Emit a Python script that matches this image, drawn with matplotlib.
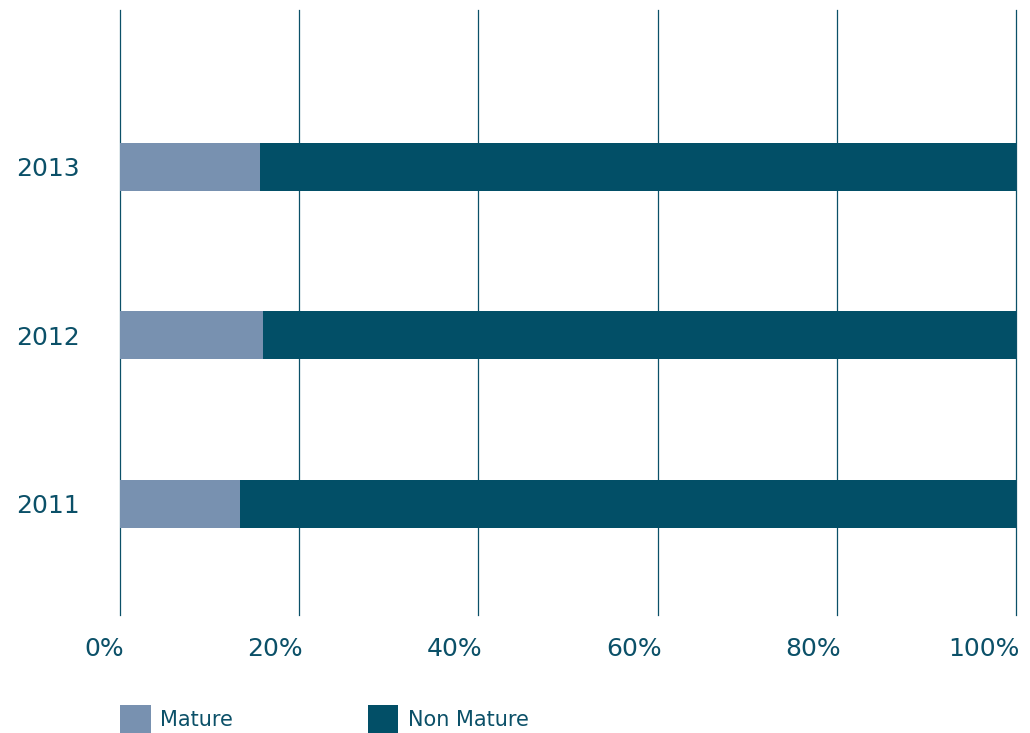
import matplotlib.pyplot as plt
import matplotlib.transforms as mtrans
from matplotlib.ticker import PercentFormatter

# data
years = ['2011', '2012', '2013']
mature = [13.4, 16.0, 15.6]
non_mature = [100 - m for m in mature]

col_mature = '#7891b0'
col_non = '#024f67'
txt_col = '#0b5068'

fig = plt.figure(figsize=(10.30, 7.33), dpi=100)
ax = fig.add_axes([120/1030, 1 - 615/733, 896/1030, 605/733])

ypos = range(len(years))
ax.barh(ypos, mature, height=0.285, color=col_mature, label='Mature', zorder=2)
ax.barh(ypos, non_mature, left=mature, height=0.285, color=col_non,
        label='Non Mature', zorder=2)

ax.set_xlim(0, 100)
ax.set_ylim(-0.66, 2.93)
ax.set_xticks([0, 20, 40, 60, 80, 100])
ax.xaxis.set_major_formatter(PercentFormatter(decimals=0))
ax.set_yticks(list(ypos))
ax.set_yticklabels(years)
ax.grid(axis='x', color=txt_col, linewidth=0.9, zorder=0)
for gl in ax.get_xgridlines():
    gl.set_clip_on(False)
ax.set_axisbelow(True)
for s in ax.spines.values():
    s.set_visible(False)
ax.tick_params(axis='both', length=0, labelsize=18, labelcolor=txt_col)
ax.tick_params(axis='x', pad=16)
ax.tick_params(axis='y', pad=29)
# x labels sit to the left of their gridline
offset = mtrans.ScaledTranslation(4/100, 0, fig.dpi_scale_trans)
for lb in ax.get_xticklabels():
    lb.set_horizontalalignment('right')
    lb.set_transform(lb.get_transform() + offset)

fig.legend(loc='lower left', bbox_to_anchor=(112/1030, -0.012), ncol=2,
           frameon=False, fontsize=15, labelcolor=txt_col,
           handlelength=1.45, handleheight=1.75, handletextpad=0.45,
           columnspacing=6.5, borderaxespad=0)

fig.savefig('out.png', dpi=100)
